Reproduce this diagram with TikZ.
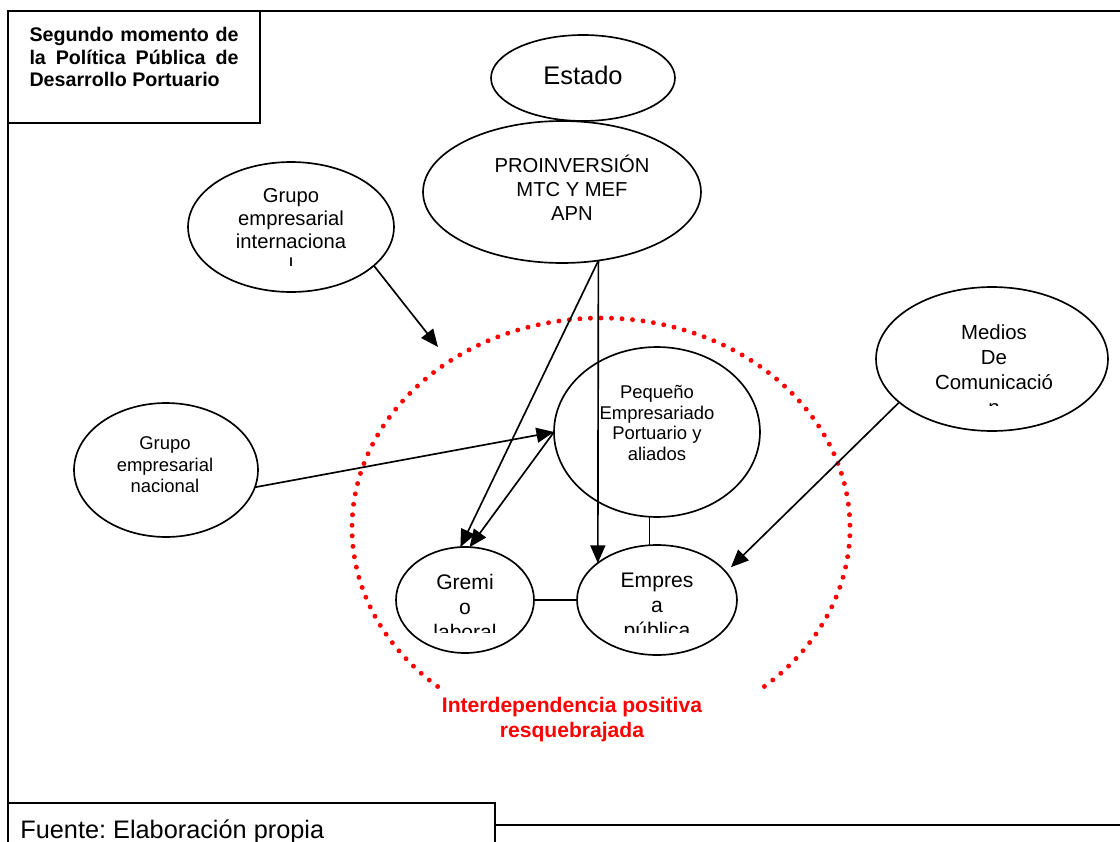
\documentclass[tikz,border=0pt]{standalone}
\usepackage{fontspec}
\setmainfont{Liberation Sans}
\usetikzlibrary{shapes.geometric,arrows.meta}
\frenchspacing

\begin{document}
\begin{tikzpicture}[x=0.02cm, y=-0.02cm,
  actor/.style={draw, ellipse, line width=0.95pt, inner sep=0pt, outer sep=0pt},
  lbl/.style={align=center, inner sep=0pt},
  link/.style={line width=0.95pt},
  push/.style={link, -{Triangle[length=10pt, width=8.5pt]}},
  frame/.style={line width=1.05pt},
  ring/.style={red, line width=2.8pt, line cap=round, dash pattern=on 0pt off 6pt}]
\useasboundingbox (0,0) rectangle (1120,842);
% marco y recuadros
\draw[frame] (8,842) -- (8,11) -- (1120,11);
\draw[frame] (8,11) rectangle (260,123);
\draw[frame] (8,803) -- (495,803) -- (495,842);
\draw[frame] (495,825) -- (1120,825);
\node[lbl, align=justify, text width=4.18cm, font=\bfseries\fontsize{11.2}{12.8}\selectfont] (titT) at (134,57) {Segundo momento de\linebreak la Política Pública de\linebreak Desarrollo Portuario};
\node[anchor=base west, inner sep=0pt, font=\fontsize{14.4}{17}\selectfont] (src) at (20,838) {Fuente: Elaboración propia};
% actores
\node[actor, minimum width=3.68cm, minimum height=1.72cm] (est) at (583,78) {};
\node[actor, minimum width=5.56cm, minimum height=2.84cm] (pro) at (562,192) {};
\node[actor, minimum width=4.12cm, minimum height=2.60cm] (gi) at (291,227) {};
\node[actor, minimum width=3.68cm, minimum height=2.68cm] (gn) at (166,470) {};
\node[actor, minimum width=4.12cm, minimum height=3.40cm] (pe) at (657,432) {};
\node[actor, minimum width=2.76cm, minimum height=2.12cm] (gr) at (465,600) {};
\node[actor, minimum width=3.20cm, minimum height=2.20cm] (em) at (657,600) {};
\node[actor, minimum width=4.64cm, minimum height=2.88cm] (me) at (992,359) {};
\node[lbl, font=\fontsize{14.5}{17}\selectfont] (estT) at (583,75) {Estado};
\node[lbl, font=\fontsize{11.5}{13.6}\selectfont] (proT) at (572,188) {PROINVERSIÓN\\MTC Y MEF\\APN};
\node[lbl, font=\fontsize{10.5}{12.2}\selectfont] (gnT) at (165,465) {Grupo\\empresarial\\nacional};
\node[lbl, font=\fontsize{10.5}{11.9}\selectfont] (peT) at (657,423) {Pequeño\\Empresariado\\Portuario y\\aliados};
\begin{scope}
\clip (180,150) rectangle (400,265);
\node[lbl, font=\fontsize{11.5}{13.3}\selectfont] (giT) at (291,230) {Grupo\\empresarial\\internaciona\\l};
\end{scope}
\begin{scope}
\clip (870,290) rectangle (1110,405);
\node[lbl, font=\fontsize{11.6}{14.2}\selectfont] (meT) at (994,370) {Medios\\De\\Comunicació\\n};
\end{scope}
\begin{scope}
\clip (400,550) rectangle (530,632);
\node[lbl, font=\fontsize{12}{14.2}\selectfont] (grT) at (465,607) {Gremi\\o\\laboral};
\end{scope}
\begin{scope}
\clip (580,550) rectangle (735,632);
\node[lbl, font=\fontsize{12}{14.2}\selectfont] (emT) at (657,607) {Empres\\a\\pública};
\end{scope}
% anillo
\draw[ring] (601,528) ++(131:249 and 210) arc[start angle=131, end angle=411, x radius=249, y radius=210];
\node[lbl, text=red, font=\bfseries\fontsize{12}{14.2}\selectfont] (ringT) at (572,720) {Interdependencia positiva\\resquebrajada};
% conexiones
\coordinate (aim) at (438,347);
\draw[push] (gi.-25) -- (aim);
\draw[push] (gn.-11) -- (pe.180);
\draw[push] (pro.-62) -- (gr.95);
\draw[push] (pe.180) -- (gr.85);
\draw[push] (pro.-62) -- (em.148);
\draw[link] (pe.265) -- (pe.265 |- em.north);
\draw[link] (gr.east) -- (em.west);
\draw[push, shorten >=4pt] (me.205) -- (em.22);
\end{tikzpicture}
\end{document}
